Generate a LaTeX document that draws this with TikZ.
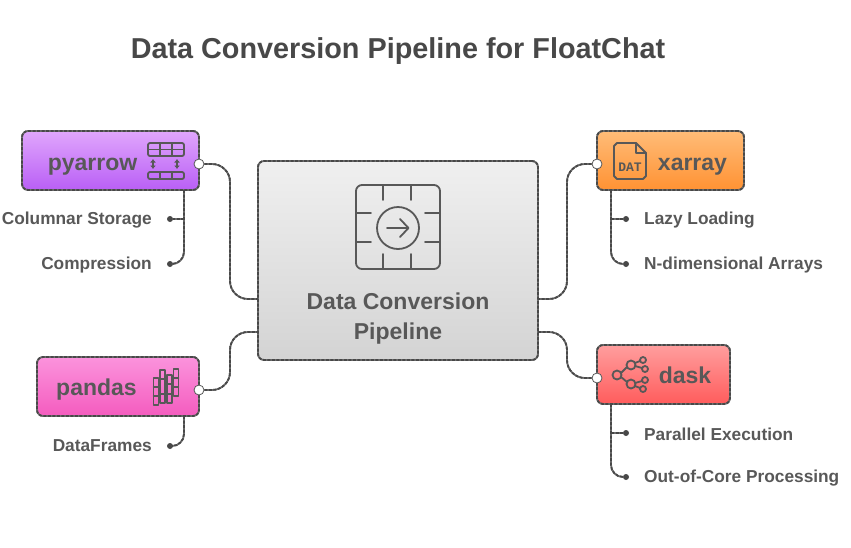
\documentclass[tikz,border=0pt]{standalone}
\usepackage{fontspec}
\setmainfont{Liberation Sans}
\newfontfamily\datfont{Liberation Mono}
\usepackage{xcolor}
\usetikzlibrary{positioning,arrows.meta}
\definecolor{ink}{HTML}{585858}
\definecolor{edgegray}{HTML}{6E6E6E}
\definecolor{dashgray}{HTML}{484848}
\definecolor{pytop}{HTML}{E0A6FC}
\definecolor{pybot}{HTML}{B95FF6}
\definecolor{xatop}{HTML}{FFBC78}
\definecolor{xabot}{HTML}{FF9233}
\definecolor{datop}{HTML}{FF9E9E}
\definecolor{dabot}{HTML}{FF5C5C}
\definecolor{patop}{HTML}{FB93DC}
\definecolor{pabot}{HTML}{F45CBF}

\begin{document}
\begin{tikzpicture}[
  x=1pt, y=-1pt,
  sketch/.style={draw=edgegray, line width=1.8pt, postaction={draw=dashgray, line width=1.8pt, dash pattern=on 3pt off 1.5pt}},
  boxn/.style={sketch, rounded corners=6pt, inner sep=0pt},
  head/.style={font=\fontsize{23}{30}\selectfont\bfseries, text=ink, inner sep=0pt},
  lbl/.style={font=\fontsize{17.3}{20}\selectfont\bfseries, text=ink, inner sep=0pt},
  link/.style={sketch, rounded corners=18pt},
  twig/.style={sketch, rounded corners=12pt},
  port/.style={circle, draw=ink, fill=white, line width=0.8pt, minimum size=10pt, inner sep=0pt},
  dotn/.style={circle, fill=dashgray, minimum size=6pt, inner sep=0pt},
  icon/.style={draw=ink, line width=1.8pt, line cap=round, line join=round}
]
\useasboundingbox (0,0) rectangle (851,547);

\node[head, font=\fontsize{28.8}{30}\selectfont\bfseries, text=dashgray] (title) at (398,51) {Data Conversion Pipeline for FloatChat};

% centre box
\node[boxn, top color=black!6, bottom color=black!17, minimum width=280pt, minimum height=199pt] (conv) at (398,260.5) {};
\node[head, align=center] (convlbl) at (398,318.5) {Data Conversion\\Pipeline};
\coordinate (c1) at (258,299);
\coordinate (c2) at (258,332);
\coordinate (c3) at (538,299);
\coordinate (c4) at (538,332);
\coordinate (e1) at (230,299);
\coordinate (e2) at (230,332);
\coordinate (e3) at (567,299);
\coordinate (e4) at (567,332);

% tools
\node[boxn, top color=pytop, bottom color=pybot, minimum width=177pt, minimum height=59pt] (pyarrow) at (110.5,160.5) {};
\node[boxn, top color=xatop, bottom color=xabot, minimum width=147pt, minimum height=59pt] (xarray) at (670.5,160.5) {};
\node[boxn, top color=datop, bottom color=dabot, minimum width=133pt, minimum height=59pt] (dask) at (663.5,374.5) {};
\node[boxn, top color=patop, bottom color=pabot, minimum width=162pt, minimum height=59pt] (pandas) at (118,386.5) {};
\node[head, anchor=base] (pyarrowlbl) at (92.5,170) {pyarrow};
\node[head, anchor=base] (xarraylbl) at (692.5,170) {xarray};
\node[head, anchor=base] (dasklbl) at (685,383) {dask};
\node[head, anchor=base] (pandaslbl) at (96.5,395) {pandas};

% ports
\node[port] (p1) at (199,164) {};
\node[port] (p2) at (597,164) {};
\node[port] (p3) at (597,378) {};
\node[port] (p4) at (199,390) {};

\draw[link] (p1.east) -| (e1) -- (c1);
\draw[link] (p4.east) -| (e2) -- (c2);
\draw[link] (p2.west) -| (e3) -- (c3);
\draw[link] (p3.west) -| (e4) -- (c4);

% features
\node[dotn] (b1) at (170,219) {};
\node[dotn] (b2) at (170,264) {};
\node[dotn] (b3) at (170,446) {};
\node[dotn] (b4) at (626,219) {};
\node[dotn] (b5) at (626,264) {};
\node[dotn] (b6) at (626,433) {};
\node[dotn] (b7) at (626,477) {};
\node[lbl, anchor=east] (l1) at (152,220.5) {Columnar Storage};
\node[lbl, anchor=east] (l2) at (152,265.5) {Compression};
\node[lbl, anchor=east] (l3) at (152,446) {DataFrames};
\node[lbl, anchor=west] (l4) at (644,220.5) {Lazy Loading};
\node[lbl, anchor=west] (l5) at (644,265.5) {N-dimensional Arrays};
\node[lbl, anchor=west] (l6) at (644,434) {Parallel Execution};
\node[lbl, anchor=west] (l7) at (644,478.5) {Out-of-Core Processing};

\coordinate (t1) at (184,190);
\coordinate (t2) at (184,416);
\coordinate (t3) at (611,190);
\coordinate (t4) at (611,404);
\draw[sketch] (t1 |- b1) -- (b1);
\draw[twig] (t1) |- (b2);
\draw[twig] (t2) |- (b3);
\draw[sketch] (t3 |- b4) -- (b4);
\draw[twig] (t3) |- (b5);
\draw[sketch] (t4 |- b6) -- (b6);
\draw[twig] (t4) |- (b7);

% chip icon
\draw[icon, rounded corners=6pt] (356,185) rectangle (440,269);
\draw[icon] (398,228) circle (21);
\draw[icon] (387,228) -- (408,228);
\draw[icon] (400,219) -- (408.5,228) -- (400,237);
\foreach \a in {383,411} {
  \draw[icon] (\a,185) -- (\a,200);
  \draw[icon] (\a,254) -- (\a,269);
}
\foreach \b in {213,242} {
  \draw[icon] (356,\b) -- (371,\b);
  \draw[icon] (425,\b) -- (440,\b);
}

% table icon
\draw[icon, rounded corners=2pt] (148,143) rectangle (184,156);
\draw[icon] (148,149.5) -- (184,149.5);
\draw[icon, rounded corners=2pt] (148,172) rectangle (184,179);
\foreach \a in {160,172} {
  \draw[icon] (\a,143) -- (\a,156);
  \draw[icon] (\a,172) -- (\a,179);
}
\foreach \a in {153,177}
  \draw[icon, {Latex[length=3.5pt,width=6pt]}-{Latex[length=3.5pt,width=6pt]}] (\a,159) -- (\a,169);

% file icon
\draw[icon] (636,143) -- (617,143) -- (614,146) -- (614,176) -- (617,179) -- (643,179) -- (646,176) -- (646,153) -- cycle;
\draw[icon] (636,143) -- (636,153) -- (646,153);
\node[font=\fontsize{13}{13}\selectfont\datfont\bfseries, text=ink, inner sep=0pt] (dat) at (630,167) {DAT};

% graph icon
\foreach \x/\y/\r in {617/375/4.5, 631/365/4.5, 631/384/4.5, 643/360/3, 645/369/3, 645/380/3, 643/389/3}
  \draw[icon] (\x,\y) circle (\r);
\draw[icon] (621,373) -- (627,367);
\draw[icon] (621,377) -- (627,382);
\draw[icon] (635,363) -- (640,361);
\draw[icon] (635,366) -- (642,368);
\draw[icon] (635,383) -- (642,381);
\draw[icon] (635,386) -- (640,388);

% bars icon
\foreach \x/\u/\v in {156/378/405, 162.5/370/403, 169.5/375/403, 176/369/396} {
  \draw[icon, line width=1.4pt] (\x-2.5,\u) rectangle (\x+2.5,\v);
  \draw[icon, line width=1.4pt] (\x-2.5,\u+9) -- (\x+2.5,\u+9);
  \draw[icon, line width=1.4pt] (\x-2.5,\v-9) -- (\x+2.5,\v-9);
}
\end{tikzpicture}
\end{document}
